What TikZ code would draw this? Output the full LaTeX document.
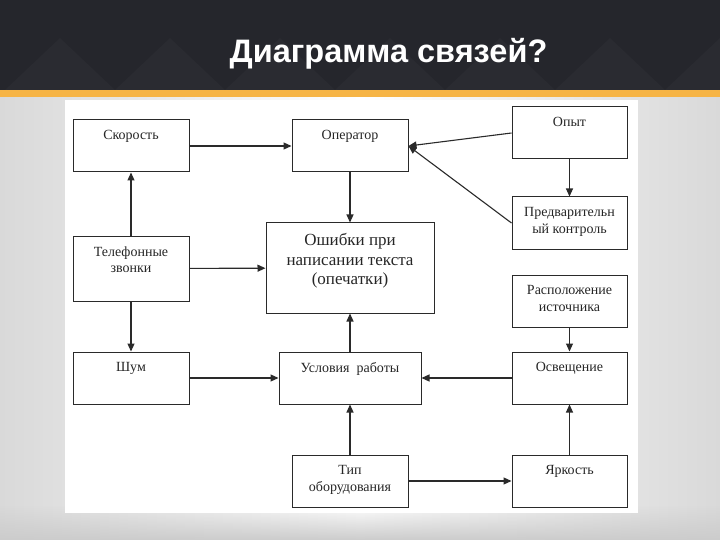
\documentclass[tikz,border=0pt]{standalone}
\usepackage{fontspec}
\setmainfont{Liberation Serif}
\newfontfamily\titlefont{Liberation Sans}
\usetikzlibrary{arrows.meta,fadings}
\definecolor{hdr}{HTML}{25262C}
\definecolor{hdrlight}{HTML}{2A2B31}
\definecolor{stripe}{HTML}{F6B445}
\definecolor{ln}{HTML}{2A2A2A}
\definecolor{slidebg}{HTML}{D9D9D9}
\tikzset{
  box/.style={draw=ln, line width=1pt, fill=white, inner sep=0pt},
  lbl/.style={anchor=north, align=center, font=\fontsize{14}{16.5}\selectfont, text=black!85, inner sep=0pt},
  biglbl/.style={anchor=north, align=center, font=\fontsize{17}{19.5}\selectfont, text=black!85, inner sep=0pt},
  arr/.style={draw=ln, line width=1.1pt, -{Triangle[length=8pt,width=7pt]}},
  hex/.style={fill=hdrlight},
}
\begin{document}
\begin{tikzpicture}[x=1pt,y=-1pt]
\useasboundingbox (0,0) rectangle (720,540);
% slide background
\shade[left color=slidebg, right color=slidebg, middle color=white] (0,97) rectangle (720,540);
\fill[black!20, path fading=north] (0,505) rectangle (720,540);
% header
\fill[hdr] (0,0) rectangle (720,90);
\foreach \px in {60,170,280,390,500,610,720} {
  \fill[hex] (\px-55,90) -- (\px,38) -- (\px+55,90) -- cycle;
}
\fill[stripe] (0,90) rectangle (720,97);
\node[anchor=base, text=white, font=\titlefont\bfseries\fontsize{32.5}{36}\selectfont, inner sep=0pt] (title) at (388.5,63) {Диаграмма связей?};
% white image area
\fill[white] (65,100) rectangle (638,513);
% boxes
\node[box, minimum width=116, minimum height=52] (sk) at (131,146) {};
\node[box, minimum width=116, minimum height=52] (op) at (350,146) {};
\node[box, minimum width=115, minimum height=52] (opyt) at (569.5,133) {};
\node[box, minimum width=115, minimum height=52] (pr) at (569.5,223) {};
\node[box, minimum width=168, minimum height=90] (err) at (350,268) {};
\node[box, minimum width=116, minimum height=65] (tel) at (131,268.5) {};
\node[box, minimum width=115, minimum height=52] (ras) at (569.5,301) {};
\node[box, minimum width=116, minimum height=52] (shum) at (131,378) {};
\node[box, minimum width=142, minimum height=52] (usl) at (350,378) {};
\node[box, minimum width=115, minimum height=52] (osv) at (569.5,378) {};
\node[box, minimum width=116, minimum height=52] (tip) at (350,481) {};
\node[box, minimum width=115, minimum height=52] (yar) at (569.5,481) {};
% labels
\node[lbl] (tsk) at ([yshift=-11pt]sk.north) {Скорость};
\node[lbl] (top) at ([yshift=-11pt]op.north) {Оператор};
\node[lbl] (topyt) at ([yshift=-11pt]opyt.north) {Опыт};
\node[lbl] (tpr) at ([yshift=-11pt]pr.north) {Предварительн\\ый контроль};
\node[biglbl] (terr) at ([yshift=-11pt]err.north) {Ошибки при\\написании текста\\(опечатки)};
\node[lbl] (ttel) at ([yshift=-11pt]tel.north) {Телефонные\\звонки};
\node[lbl] (tras) at ([yshift=-11pt]ras.north) {Расположение\\источника};
\node[lbl] (tshum) at ([yshift=-11pt]shum.north) {Шум};
\node[lbl] (tusl) at ([yshift=-11pt]usl.north) {Условия~ работы};
\node[lbl] (tosv) at ([yshift=-11pt]osv.north) {Освещение};
\node[lbl] (ttip) at ([yshift=-11pt]tip.north) {Тип\\оборудования};
\node[lbl] (tyar) at ([yshift=-11pt]yar.north) {Яркость};
% connectors
\draw[arr] (sk) -- (op);
\draw[arr] (op) -- (err);
\draw[arr] (opyt.west) -- (op.east);
\draw[arr] (pr.west) -- (op.east);
\draw[arr] (opyt) -- (pr);
\draw[arr] (tel) -- (sk);
\draw[arr] (tel) -- (err);
\draw[arr] (tel) -- (shum);
\draw[arr] (shum) -- (usl);
\draw[arr] (usl) -- (err);
\draw[arr] (osv) -- (usl);
\draw[arr] (ras) -- (osv);
\draw[arr] (tip) -- (usl);
\draw[arr] (tip) -- (yar);
\draw[arr] (yar) -- (osv);
\end{tikzpicture}
\end{document}
